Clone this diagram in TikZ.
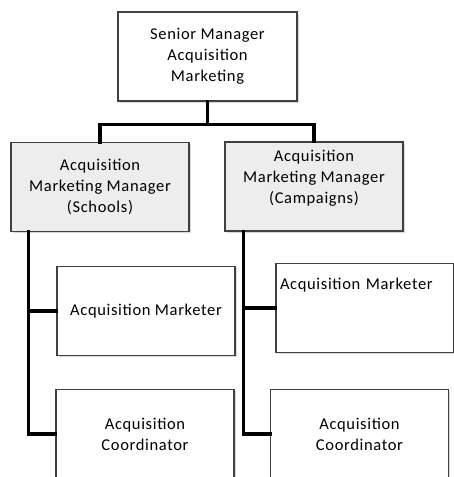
\documentclass[tikz,border=0pt]{standalone}
\usepackage{fontspec}
\setmainfont{Carlito}[LetterSpace=4]
\usepackage{tikz}
\usetikzlibrary{positioning,shadows}
\tikzset{
postbox/.style={
  draw=black!75,
  line width=1.3pt,
  fill=white,
  align=center,
  minimum width=178pt,
  minimum height=89pt,
  font=\fontsize{16.5}{21}\selectfont,
  drop shadow={shadow xshift=1.5pt,shadow yshift=-1.5pt,opacity=0.3}
  },
mgrbox/.style={
  postbox,
  fill=black!7
  },
link/.style={
  line width=3.5pt,
  line cap=rect
  }
}

\begin{document}
\begin{tikzpicture}[x=1pt,y=1pt]
\useasboundingbox (0,0) rectangle (454,-477);
\clip (0,0) rectangle (454,-477);

\node[postbox,minimum width=179pt] (senior) at (207.5,-56.5)
  {Senior Manager\\Acquisition\\Marketing};

\node[mgrbox] (mgrschools) at (100,-187)
  {Acquisition\\Marketing Manager\\(Schools)};
\node[mgrbox,text depth=20pt] (mgrcampaigns) at (314,-186.5)
  {Acquisition\\Marketing Manager\\(Campaigns)};

\node[postbox] (mktschools) at (146,-311) {Acquisition Marketer};
\node[postbox,text width=170pt,align=left,text depth=48pt] (mktcampaigns) at (365,-308)
  {Acquisition Marketer};

\node[postbox] (coordschools) at (145,-434) {Acquisition\\Coordinator};
\node[postbox] (coordcampaigns) at (359.5,-434) {Acquisition\\Coordinator};

% top level
\coordinate (split) at ([yshift=-23pt]senior.south);
\draw[link] (senior.south) -- (split) -| (mgrschools.north);
\draw[link] (split) -| (mgrcampaigns.north);

% schools
\coordinate (spineschools) at ([xshift=18pt]mgrschools.south west);
\draw[link] (spineschools) |- (mktschools.west);
\draw[link] (spineschools) |- (coordschools.west);

% campaigns
\coordinate (spinecampaigns) at ([xshift=19pt]mgrcampaigns.south west);
\draw[link] (spinecampaigns) |- (mktcampaigns.west);
\draw[link] (spinecampaigns) |- (coordcampaigns.west);

\end{tikzpicture}
\end{document}
